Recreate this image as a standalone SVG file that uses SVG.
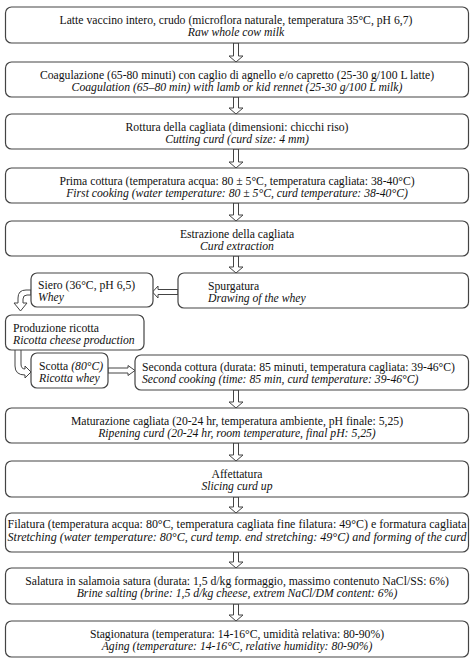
<svg xmlns="http://www.w3.org/2000/svg" width="474" height="664" viewBox="0 0 474 664">
<style>
.box{fill:#fff;stroke:#444;stroke-width:1.2}
.arr{fill:#fff;stroke:#444;stroke-width:1;stroke-linejoin:miter}
text{font-family:"Liberation Serif","Times New Roman",serif;font-size:11.7px;fill:#111}
.c{text-anchor:middle}
.i{font-style:italic}
</style>
<rect width="474" height="664" fill="#fff"/>
<g id="connectors">
<polygon class="arr" points="233.5,43 238.5,43 238.5,56 243,56 236,62 229,56 233.5,56"/>
<polygon class="arr" points="233.5,97 238.5,97 238.5,108 243,108 236,114 229,108 233.5,108"/>
<polygon class="arr" points="233.5,149 238.5,149 238.5,162 243,162 236,168 229,162 233.5,162"/>
<polygon class="arr" points="233.5,203 238.5,203 238.5,215 243,215 236,221 229,215 233.5,215"/>
<polygon class="arr" points="233.5,256 238.5,256 238.5,267 243,267 236,273 229,267 233.5,267"/>
<polygon class="arr" points="178,289.5 158,289.5 158,286 152.5,292 158,298 158,294.5 178,294.5"/>
<path class="arr" d="M31,290 L26,290 Q18,290 18,298 L18,303 L14,303 L20.5,311 L27,303 L23,303 L23,299 Q23,295 27,295 L31,295 Z"/>
<path class="arr" d="M21,350 L21,364 Q21,369 25,369 L25,366 L31,372 L25,378 L25,375 Q15,375 15,366 L15,350"/>
<polygon class="arr" points="108,368 128,368 128,365.5 135,370.5 128,375.5 128,373 108,373"/>
<polygon class="arr" points="233.5,390 238.5,390 238.5,402 243,402 236,408 229,402 233.5,402"/>
<polygon class="arr" points="233.5,443 238.5,443 238.5,455 243,455 236,461 229,455 233.5,455"/>
<polygon class="arr" points="233.5,497 238.5,497 238.5,507 243,507 236,513 229,507 233.5,507"/>
<polygon class="arr" points="233.5,552 238.5,552 238.5,562 243,562 236,568 229,562 233.5,562"/>
<polygon class="arr" points="233.5,604 238.5,604 238.5,615 243,615 236,621 229,615 233.5,615"/>
</g>
<g id="n1"><rect class="box" x="5.5" y="7" width="463" height="36" rx="6"/>
<text class="c" x="236" y="24">Latte vaccino intero, crudo (microflora naturale, temperatura 35°C, pH 6,7)</text>
<text class="c i" x="236" y="36">Raw whole cow milk</text></g>
<g id="n2"><rect class="box" x="5.5" y="62" width="463" height="35" rx="6"/>
<text class="c" x="237" y="78.5">Coagulazione (65-80 minuti) con caglio di agnello e/o capretto (25-30 g/100 L latte)</text>
<text class="c i" x="237" y="90.5">Coagulation (65–80 min) with lamb or kid rennet (25-30 g/100 L milk)</text></g>
<g id="n3"><rect class="box" x="5.5" y="114" width="463" height="35" rx="6"/>
<text class="c" x="237" y="130.5">Rottura della cagliata (dimensioni: chicchi riso)</text>
<text class="c i" x="237" y="142.5">Cutting curd (curd size: 4 mm)</text></g>
<g id="n4"><rect class="box" x="5.5" y="168" width="463" height="35" rx="6"/>
<text class="c" x="237" y="184.5">Prima cottura (temperatura acqua: 80 ± 5°C, temperatura cagliata: 38-40°C)</text>
<text class="c i" x="237" y="196.5">First cooking (water temperature: 80 ± 5°C, curd temperature: 38-40°C)</text></g>
<g id="n5"><rect class="box" x="5.5" y="221" width="463" height="35" rx="6"/>
<text class="c" x="237" y="237.5">Estrazione della cagliata</text>
<text class="c i" x="237" y="249.5">Curd extraction</text></g>
<g id="n6"><rect class="box" x="178" y="273" width="290.5" height="35" rx="6"/>
<text x="208" y="289.5">Spurgatura</text>
<text class="i" x="208" y="301.5">Drawing of the whey</text></g>
<g id="n7"><rect class="box" x="31" y="273" width="122" height="34" rx="6"/>
<text x="38" y="289">Siero (36°C, pH 6,5)</text>
<text class="i" x="38" y="301">Whey</text></g>
<g id="n8"><rect class="box" x="5.5" y="315" width="138.5" height="35" rx="6"/>
<text x="13" y="331.5">Produzione ricotta</text>
<text class="i" x="13" y="343.5">Ricotta cheese production</text></g>
<g id="n9"><rect class="box" x="31" y="353" width="77" height="35" rx="6"/>
<text x="39" y="369.5">Scotta <tspan class="i">(80°C)</tspan></text>
<text class="i" x="39" y="381.5">Ricotta whey</text></g>
<g id="n10"><rect class="box" x="135" y="355" width="333.5" height="35" rx="6"/>
<text x="142" y="370.5">Seconda cottura (durata: 85 minuti, temperatura cagliata: 39-46°C)</text>
<text class="i" x="142" y="382.5">Second cooking (time: 85 min, curd temperature: 39-46°C)</text></g>
<g id="n11"><rect class="box" x="5.5" y="408" width="463" height="35" rx="6"/>
<text class="c" x="237" y="424.5">Maturazione cagliata (20-24 hr, temperatura ambiente, pH finale: 5,25)</text>
<text class="c i" x="237" y="436.5">Ripening curd (20-24 hr, room temperature, final pH: 5,25)</text></g>
<g id="n12"><rect class="box" x="5.5" y="461" width="463" height="36" rx="6"/>
<text class="c" x="237" y="478">Affettatura</text>
<text class="c i" x="237" y="490">Slicing curd up</text></g>
<g id="n13"><rect class="box" x="5.5" y="513" width="463" height="39" rx="6"/>
<text class="c" x="237" y="528" textLength="459" lengthAdjust="spacingAndGlyphs">Filatura (temperatura acqua: 80°C, temperatura cagliata fine filatura: 49°C) e formatura cagliata</text>
<text class="c i" x="237" y="541" textLength="459" lengthAdjust="spacingAndGlyphs">Stretching (water temperature: 80°C, curd temp. end stretching: 49°C) and forming of the curd</text></g>
<g id="n14"><rect class="box" x="5.5" y="568" width="463" height="36" rx="6"/>
<text class="c" x="237" y="584.5">Salatura in salamoia satura (durata: 1,5 d/kg formaggio, massimo contenuto NaCl/SS: 6%)</text>
<text class="c i" x="237" y="596.5">Brine salting (brine: 1,5 d/kg cheese, extrem NaCl/DM content: 6%)</text></g>
<g id="n15"><rect class="box" x="5.5" y="621" width="463" height="36" rx="6"/>
<text class="c" x="237" y="637.5">Stagionatura (temperatura: 14-16°C, umidità relativa: 80-90%)</text>
<text class="c i" x="237" y="649.5">Aging (temperature: 14-16°C, relative humidity: 80-90%)</text></g>
</svg>
